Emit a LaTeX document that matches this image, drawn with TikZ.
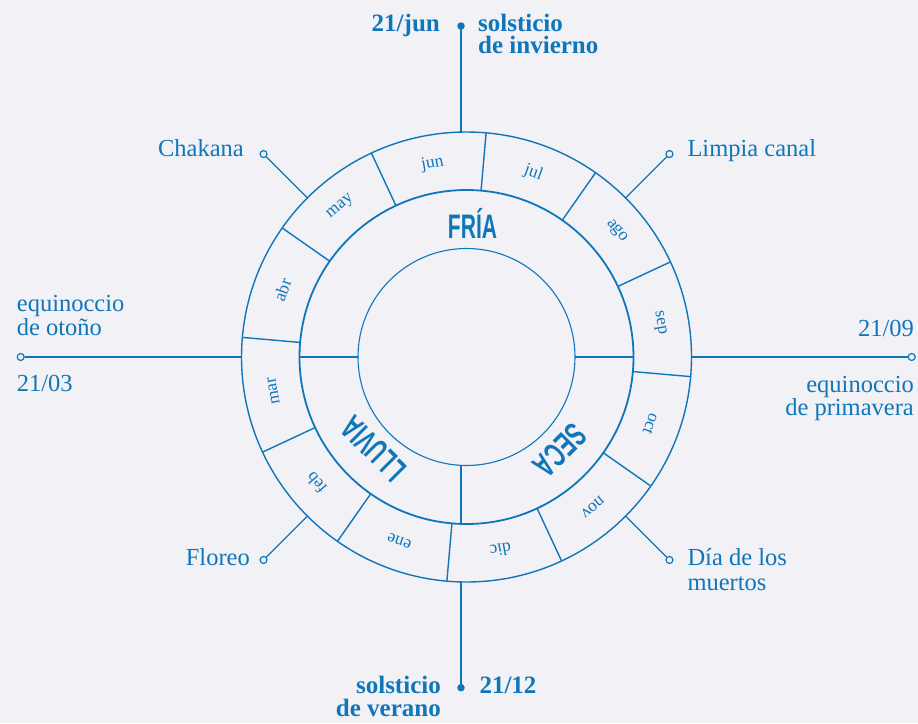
\documentclass[tikz,border=0pt]{standalone}
\usepackage{fontspec}
\setmainfont{Liberation Serif}
\newfontfamily\seasonfont[FakeStretch=0.62]{Liberation Sans}
\usetikzlibrary{calc}
\definecolor{ink}{RGB}{16,118,186}
\definecolor{bg}{RGB}{241,241,246}
\newcommand\blockL[3][23.5pt]{\vtop{\baselineskip=#1\hbox{#2}\hbox{#3}}}
\newcommand\blockR[3][23.5pt]{\vtop{\baselineskip=#1\halign{\hfil##\cr#2\cr#3\cr}}}
\begin{document}
\begin{tikzpicture}[x=1pt,y=1pt,
  lab/.style={text=ink,inner sep=0pt,font=\fontsize{24.5}{24}\selectfont},
  blab/.style={text=ink,inner sep=0pt,font=\fontsize{25}{24}\selectfont\bfseries},
  month/.style={text=ink,inner sep=0pt,font=\fontsize{17.5}{17.5}\selectfont},
  season/.style={text=ink,inner sep=0pt,font=\seasonfont\bfseries\fontsize{34}{34}\selectfont},
  ring/.style={draw=ink},
  divider/.style={draw=ink,line width=1.4pt},
  leader/.style={draw=ink,line width=1.2pt},
  opendot/.style={circle,draw=ink,line width=1.2pt,fill=bg,minimum size=7pt,inner sep=0pt},
  fulldot/.style={circle,fill=ink,minimum size=7.5pt,inner sep=0pt}]
\fill[bg] (0,0) rectangle (918,-723);
\useasboundingbox (0,0) rectangle (918,-723);
\coordinate (C) at (466.5,-357);
% rings
\draw[ring,line width=1.4pt] (C) circle (225);
\draw[ring,line width=1.8pt] (C) circle (167);
\draw[ring,line width=1.1pt] (C) circle (108.5);
% month dividers
\foreach \a in {85,55,...,-245}
  \draw[divider] ($(C)+(\a:167)$) -- ($(C)+(\a:225)$);
% season dividers
\draw[divider] ($(C)+(180:108.5)$) -- ($(C)+(180:167)$);
\draw[divider] ($(C)+(0:108.5)$) -- ($(C)+(0:167)$);
\draw[divider] (461,-465.4) -- (461,-523.9);
% months
\foreach \m/\a in {jun/100,jul/70,ago/40,sep/10,oct/-20,nov/-50,dic/-80,ene/-110,feb/-140,mar/-170,abr/160,may/130}
  \node[month,rotate=\a-90] (m-\m) at ($(C)+(\a:196)$) {\m};
% seasons
\node[season] (fria) at (472.5,-223) {FRÍA};
\node[season,rotate=-135] (seca) at (560,-450.5) {SECA};
\node[season,rotate=135] (lluvia) at (373.3,-448.3) {LLUVIA};
% diagonal leaders
\foreach \a in {45,135,225,315} {
  \coordinate (o\a) at ($(C)+(\a:225)$);
  \node[opendot] (d\a) at ($(C)+(\a:287)$) {};
  \draw[leader] (o\a) -- (d\a);
}
% horizontal leaders
\coordinate (oL) at ($(C)+(180:225)$);
\coordinate (oR) at ($(C)+(0:225)$);
\node[opendot] (dL) at (20.7,-357) {};
\node[opendot] (dR) at (911.7,-357) {};
\draw[leader] (oL) -- (dL);
\draw[leader] (oR) -- (dR);
% vertical leaders
\coordinate (oT) at (461,-132.07);
\coordinate (oB) at (461,-581.93);
\node[fulldot] (dT) at (461,-26) {};
\node[fulldot] (dB) at (461,-687.7) {};
\draw[leader] (oT) -- (dT.center);
\draw[leader] (oB) -- (dB.center);
% texts
\node[blab,anchor=base east] (tjun) at (440,-31) {21/jun};
\node[blab,anchor=base west] (tinv) at (478,-31) {\blockL[22.5pt]{solsticio}{de invierno}};
\node[blab,anchor=base east] (tver) at (441,-693.3) {\blockR{solsticio}{de verano}};
\node[blab,anchor=base west] (tdic) at (479.3,-693.3) {21/12};
\node[lab,anchor=base west] (toto) at (16.7,-311.7) {\blockL{equinoccio}{de otoño}};
\node[lab,anchor=base west] (tmar) at (16.7,-391.7) {21/03};
\node[lab,anchor=base east] (tsep) at (914,-336.7) {21/09};
\node[lab,anchor=base east] (tpri) at (914,-392.7) {\blockR[22.5pt]{equinoccio}{de primavera}};
\node[lab,anchor=base east] (tcha) at (244,-156.7) {Chakana};
\node[lab,anchor=base west] (tlim) at (687.3,-156.7) {Limpia canal};
\node[lab,anchor=base east] (tflo) at (250,-565.7) {Floreo};
\node[lab,anchor=base west] (tdia) at (687.3,-565) {\blockL[25pt]{Día de los}{muertos}};
\end{tikzpicture}
\end{document}
